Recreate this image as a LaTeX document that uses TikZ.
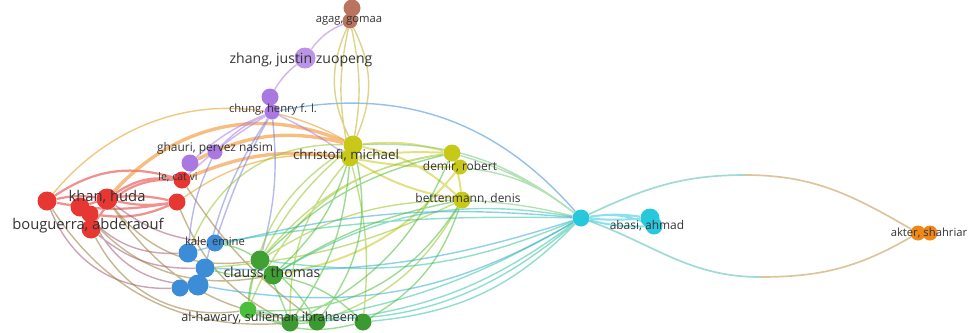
\documentclass[tikz,border=0pt]{standalone}
\usepackage{fontspec}
\setmainfont{Open Sans}
\usepackage{xcolor}
\usetikzlibrary{positioning, backgrounds}

\definecolor{vred}{RGB}{230,55,50}
\definecolor{vgreen}{RGB}{75,190,60}
\definecolor{vblue}{RGB}{60,140,215}
\definecolor{vyellow}{RGB}{200,200,25}
\definecolor{vpurple}{RGB}{170,120,225}
\definecolor{vcyan}{RGB}{40,200,220}
\definecolor{vorange}{RGB}{240,135,25}
\definecolor{vbrown}{RGB}{185,115,95}

\begin{document}
\begin{tikzpicture}[
    x=0.025cm, y=-0.025cm,
    dot/.style={circle, inner sep=0pt, minimum size=#1*0.025cm},
    lbl/.style={text=black!80, inner sep=0pt, font=\fontsize{#1}{#1}\selectfont},
    link/.style={line width=1pt, opacity=0.55}
  ]
    \useasboundingbox (0,0) rectangle (976,332);

    % red group
    \node[dot=19, fill=vred] (r1) at (47,201) {};
    \node[dot=19, fill=vred] (r2) at (80,207) {};
    \node[dot=17, fill=vred] (r3) at (90,214) {};
    \node[dot=21, fill=vred] (khan) at (107,199) {};
    \node[dot=19, fill=vred] (bouguerra) at (91,229) {};
    \node[dot=17, fill=vred] (lecatvi) at (182,180) {};
    \node[dot=17, fill=vred] (r4) at (177,202) {};

    % purple group
    \node[dot=17, fill=vpurple] (ghauri) at (190,163) {};
    \node[dot=15, fill=vpurple] (ghauri2) at (215,152) {};
    \node[dot=17, fill=vpurple] (chung) at (270,97) {};
    \node[dot=15, fill=vpurple] (chung2) at (272,112) {};
    \node[dot=21, fill=vpurple!80] (zhang) at (305,58) {};

    % brown group
    \node[dot=17, fill=vbrown] (agag) at (352,8) {};
    \node[dot=15, fill=vbrown] (agag2) at (350,21) {};

    % yellow group
    \node[dot=19, fill=vyellow] (christofi) at (353,145) {};
    \node[dot=17, fill=vyellow] (christofi2) at (350,158) {};
    \node[dot=17, fill=vyellow] (demir) at (452,153) {};
    \node[dot=15, fill=vyellow] (demir2) at (460,167) {};
    \node[dot=17, fill=vyellow] (bettenmann) at (462,200) {};

    % cyan group
    \node[dot=17, fill=vcyan] (hub) at (581,218) {};
    \node[dot=19, fill=vcyan] (abasi) at (650,218) {};
    \node[dot=17, fill=vcyan] (abasi2) at (654,226) {};

    % orange group
    \node[dot=15, fill=vorange] (akter) at (918,233) {};
    \node[dot=15, fill=vorange] (akter2) at (930,233) {};
    \coordinate (arcTop) at (745,175);
    \coordinate (arcBot) at (760,277);

    % blue group
    \node[dot=17, fill=vblue] (kale) at (215,243) {};
    \node[dot=19, fill=vblue] (b2) at (188,253) {};
    \node[dot=19, fill=vblue] (b3) at (205,268) {};
    \node[dot=21, fill=vblue] (b4) at (198,285) {};
    \node[dot=17, fill=vblue] (b5) at (180,288) {};

    % green group
    \node[dot=19, fill=vgreen!85!black] (clauss) at (260,260) {};
    \node[dot=19, fill=vgreen!85!black] (clauss2) at (273,275) {};
    \node[dot=17, fill=vgreen] (hawary) at (248,310) {};
    \node[dot=17, fill=vgreen!80!black] (g4) at (290,323) {};
    \node[dot=17, fill=vgreen!80!black] (g5) at (317,322) {};
    \node[dot=17, fill=vgreen!80!black] (g6) at (363,322) {};

    % labels
    \node[lbl=10.5] (khanL) at (107,197) {khan, huda};
    \node[lbl=10.5] (bouguerraL) at (88,226) {bouguerra, abderaouf};
    \node[lbl=7.5] (lecatviL) at (178,177) {le, cat vi};
    \node[lbl=8.5] (ghauriL) at (215,148) {ghauri, pervez nasim};
    \node[lbl=8] (chungL) at (273,110) {chung, henry f. l.};
    \node[lbl=10] (zhangL) at (301,60) {zhang, justin zuopeng};
    \node[lbl=8] (agagL) at (349,21) {agag, gomaa};
    \node[lbl=9.5] (christofiL) at (346,155) {christofi, michael};
    \node[lbl=8.5] (demirL) at (460,167) {demir, robert};
    \node[lbl=8.5] (bettenmannL) at (468,199) {bettenmann, denis};
    \node[lbl=8.5] (abasiL) at (647,226) {abasi, ahmad};
    \node[lbl=8] (akterL) at (929,233) {akter, shahriar};
    \node[lbl=8] (kaleL) at (215,242) {kale, emine};
    \node[lbl=10] (claussL) at (272,273) {clauss, thomas};
    \node[lbl=9] (hawaryL) at (270,318) {al-hawary, sulieman ibraheem};

    \begin{scope}[on background layer]
    \draw[link, vred, line width=1.6pt] (r1) to[bend left=25] (lecatvi) (khan) to[bend left=20] (lecatvi)
        (r2) to[bend left=15] (r4) (khan) to[bend right=10] (r4) (bouguerra) to[bend left=30] (lecatvi)
        (r1) to[bend left=10] (khan) (r3) to[bend right=15] (r4) (r1) to[bend right=10] (r4);
    \draw[link, vred!60!vblue] (khan) to[bend right=15] (kale) (r2) to[bend right=25] (b2)
        (bouguerra) to[bend right=20] (b3) (r3) to[bend right=30] (b4) (r1) to[bend right=35] (b5);
    \draw[link, vred!50!vgreen] (khan) to[bend right=30] (clauss) (bouguerra) to[bend right=35] (hawary)
        (r2) to[bend right=30] (clauss2) (r4) to[bend right=20] (g4) (lecatvi) to[bend right=10] (g5)
        (r1) to[bend right=30] (g4) (khan) to[bend right=25] (g5);
    \draw[link, vorange, line width=2.4pt] (khan) to[bend left=35] (christofi) (lecatvi) to[bend left=15] (christofi2)
        (ghauri) to[bend left=20] (christofi);
    \draw[link, vorange!70!vyellow] (r4) to[bend left=20] (christofi2) (r1) to[bend left=40] (christofi);

    \draw[link, vpurple] (agag2) to[bend right=15] (zhang) (zhang) to[bend right=10] (chung)
        (chung2) to[bend right=10] (ghauri) (chung2) to[bend right=5] (lecatvi) (chung2) to[bend left=5] (christofi2)
        (ghauri2) to[bend left=10] (chung2);
    \draw[link, vpurple!60!vblue] (chung2) to[bend right=5] (kale) (chung2) to[bend right=10] (b3)
        (ghauri2) to[bend right=10] (b2) (chung2) to[bend left=10] (clauss);
    \draw[link, vblue] (chung2) to[bend left=30] (hub);

    \draw[link, vyellow!70!vbrown] (agag2) to[bend right=25] (christofi) (agag2) to[bend left=25] (christofi)
        (agag2) to[bend right=12] (christofi2) (agag2) to[bend left=12] (christofi2);

    \draw[link, vyellow, line width=1.4pt] (christofi) to[bend left=10] (demir) (christofi2) to[bend right=5] (demir2)
        (christofi) to[bend left=15] (bettenmann) (christofi2) to[bend right=10] (bettenmann)
        (demir) to[bend left=5] (bettenmann) (demir2) to[bend left=20] (clauss2)
        (christofi2) to[bend left=5] (demir);
    \draw[link, vyellow!60!vgreen] (christofi) to[bend right=10] (clauss) (christofi2) to[bend right=20] (g4)
        (christofi) to[bend right=25] (hawary) (christofi2) to[bend left=10] (g6)
        (bettenmann) to[bend right=15] (clauss) (bettenmann) to[bend left=20] (g5)
        (demir) to[bend right=20] (clauss) (bettenmann) to[bend left=10] (b3)
        (christofi) to[bend right=35] (b2) (demir) to[bend right=30] (hawary);
    \draw[link, vyellow!50!vcyan] (christofi) to[bend left=20] (hub) (demir) to[bend left=10] (hub)
        (bettenmann) to[bend left=5] (hub) (demir2) to[bend left=15] (hub);

    \draw[link, vcyan, line width=1.4pt] (hub) to[bend left=8] (abasi) (hub) to[bend right=8] (abasi2)
        (hub) to[bend left=15] (abasi2) (hub) to[bend right=4] (abasi);
    \draw[link, vcyan!80!vorange, line width=1.2pt] (hub) to[out=25, in=180] (arcTop) (hub) to[out=-20, in=180] (arcBot);
    \draw[link, vorange!75!vcyan, line width=1.2pt] (arcTop) to[out=0, in=150] (akter) (arcBot) to[out=0, in=-150] (akter);
    \draw[link, vcyan!60!vgreen] (hub) to[bend left=15] (clauss) (hub) to[bend right=20] (clauss2)
        (hub) to[bend left=10] (g4) (hub) to[bend left=20] (g6) (hub) to[bend left=25] (hawary)
        (hub) to[bend right=5] (kale) (hub) to[bend left=15] (g5);
    \draw[link, vcyan!50!vblue] (hub) to[bend left=20] (b4) (hub) to[bend left=10] (b3)
        (hub) to[bend right=10] (b2);

    \draw[link, vgreen] (clauss) to[bend right=10] (hawary) (clauss) to[bend left=5] (g4)
        (clauss) to[bend left=10] (g5) (clauss2) to[bend left=15] (g6) (hawary) to[bend right=20] (g6)
        (hawary) to[bend right=15] (g5) (clauss) to[bend right=10] (kale) (clauss2) to[bend left=10] (b3)
        (g4) to[bend right=20] (demir) (g5) to[bend right=25] (christofi) (g6) to[bend right=20] (bettenmann)
        (clauss) to[bend left=15] (demir) (clauss2) to[bend left=10] (bettenmann) (hawary) to[bend right=30] (bettenmann)
        (clauss2) to[bend right=15] (christofi) (g4) to[bend right=15] (christofi2);
    \end{scope}
  \end{tikzpicture}
\end{document}
